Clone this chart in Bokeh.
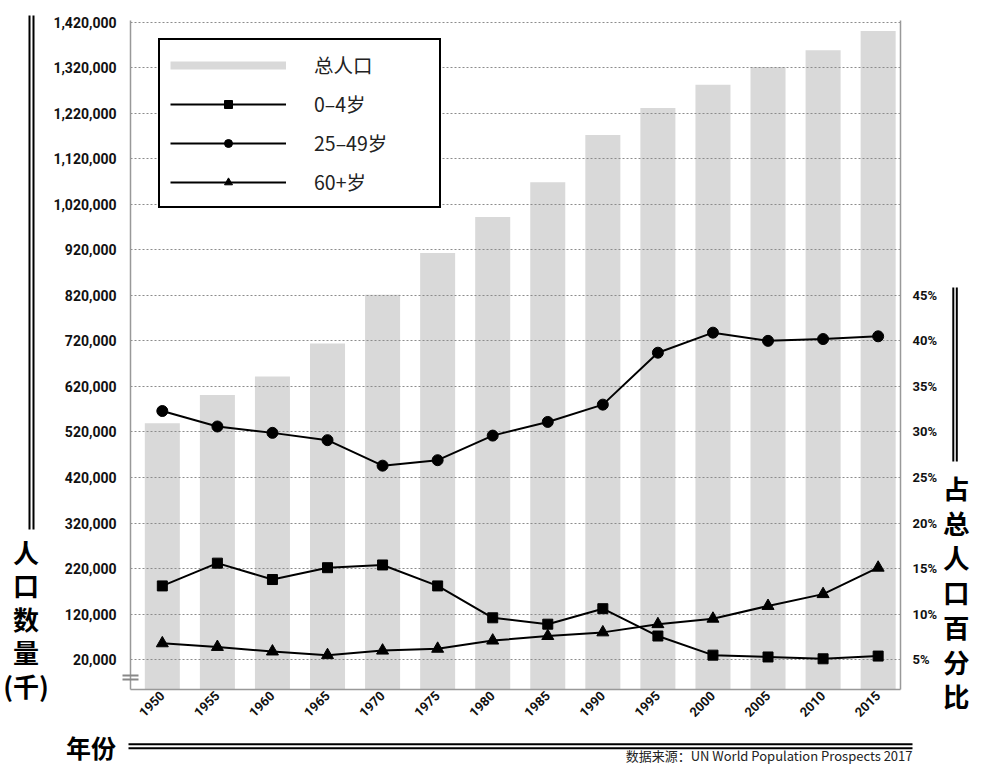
import math
from bokeh.plotting import figure
from bokeh.layouts import row, column
from bokeh.models import (Range1d, LinearAxis, FixedTicker, NumeralTickFormatter,
                          PrintfTickFormatter, Legend, LegendItem)
from bokeh.core.properties import value
from bokeh.embed import file_html
from bokeh.resources import INLINE

# ---------------- data ----------------
years = [1950, 1955, 1960, 1965, 1970, 1975, 1980, 1985, 1990, 1995, 2000, 2005, 2010, 2015]
total_pop = [539000, 601000, 642000, 714000, 821000, 913000, 992000, 1068000, 1172000,
             1231000, 1282000, 1321000, 1358000, 1400000]
pct_0_4 = [13.1, 15.6, 13.8, 15.1, 15.4, 13.1, 9.6, 8.9, 10.6, 7.6, 5.5, 5.3, 5.1, 5.4]
pct_25_49 = [32.3, 30.6, 29.9, 29.1, 26.3, 26.9, 29.6, 31.1, 33.0, 38.7, 40.9, 40.0, 40.2, 40.5]
pct_60 = [6.8, 6.4, 5.9, 5.5, 6.0, 6.2, 7.1, 7.6, 8.0, 8.9, 9.5, 10.9, 12.2, 15.1]
left_ticks = list(range(20000, 1420001, 100000))
right_ticks = [5, 10, 15, 20, 25, 30, 35, 40, 45]
break_marks = [-14700, -23500]   # axis-break "=" sign on the left axis

series_labels = ["总人口", "0–4岁", "25–49岁", "60+岁"]
left_title = ["人", "口", "数", "量", "(千)"]
right_title = ["占", "总", "人", "口", "百", "分", "比"]
x_title = "年份"
source_text = "数据来源：UN World Population Prospects 2017"

TICK_FONT = "Roboto"
CJK_FONT = "Noto Sans CJK SC"

# ---------------- layout sizes ----------------
TOTAL_W, TOTAL_H = 971, 765
LEFT_W, RIGHT_W = 50, 31
TOP_H = 725
MAIN_W = TOTAL_W - LEFT_W - RIGHT_W
BOTTOM_H = TOTAL_H - TOP_H
FRAME_BOTTOM = 689

Y0, Y1 = -45400, 1423300
p = figure(width=MAIN_W, height=TOP_H, output_backend="svg", toolbar_location=None,
           x_range=Range1d(1947.11, 2017.03), y_range=Range1d(Y0, Y1),
           min_border_left=79, min_border_right=40, min_border_top=20,
           min_border_bottom=TOP_H - FRAME_BOTTOM, frame_align=False)
p.extra_y_ranges = {"pct": Range1d(5 + (Y0 - 20000) / 20000, 5 + (Y1 - 20000) / 20000)}
p.outline_line_color = None

# bars
bars = p.vbar(x=years, top=total_pop, bottom=Y0, width=3.18, fill_color="#d9d9d9",
              line_color=None, level="image")

# grid
p.xgrid.visible = False
p.ygrid.ticker = FixedTicker(ticks=left_ticks)
p.ygrid.grid_line_color = "#8c8c8c"
p.ygrid.grid_line_dash = "2 2"
p.ygrid.grid_line_width = 1
p.ygrid.level = "underlay"

# lines
lw = 2
l1 = p.line(years, pct_0_4, y_range_name="pct", line_color="black", line_width=lw)
m1 = p.scatter(years, pct_0_4, y_range_name="pct", marker="square", size=10, color="black")
l2 = p.line(years, pct_25_49, y_range_name="pct", line_color="black", line_width=lw)
m2 = p.scatter(years, pct_25_49, y_range_name="pct", marker="circle", size=11, color="black")
l3 = p.line(years, pct_60, y_range_name="pct", line_color="black", line_width=lw)
m3 = p.scatter(years, pct_60, y_range_name="pct", marker="triangle", size=12, color="black")
proxy = p.line(x=[years[0]], y=[float("nan")], line_color="#d9d9d9", line_width=8)

# axes
la = p.yaxis[0]
la.ticker = FixedTicker(ticks=left_ticks, minor_ticks=break_marks)
la.formatter = NumeralTickFormatter(format="0,0")
la.major_tick_out = 0
la.major_tick_in = 0
la.minor_tick_out = 8
la.minor_tick_in = 8
la.minor_tick_line_color = "#888888"
la.minor_tick_line_width = 2
la.major_label_standoff = 6
la.axis_line_color = "#999999"
la.axis_line_width = 1.5
la.major_label_text_font = TICK_FONT
la.major_label_text_font_style = "bold"
la.major_label_text_font_size = "14px"
la.major_label_text_color = "#111111"

ra = LinearAxis(y_range_name="pct", ticker=FixedTicker(ticks=right_ticks),
                formatter=PrintfTickFormatter(format="%d%%"))
ra.major_tick_out = 0
ra.major_tick_in = 0
ra.minor_tick_out = 0
ra.minor_tick_in = 0
ra.major_label_standoff = 12
ra.axis_line_color = "#999999"
ra.axis_line_width = 1.5
ra.major_label_text_font = TICK_FONT
ra.major_label_text_font_style = "bold"
ra.major_label_text_font_size = "13px"
ra.major_label_text_color = "#111111"
p.add_layout(ra, "right")

xa = p.xaxis[0]
xa.ticker = FixedTicker(ticks=years)
xa.major_tick_out = 0
xa.major_tick_in = 0
xa.minor_tick_out = 0
xa.minor_tick_in = 0
xa.major_label_orientation = math.pi / 4
xa.major_label_standoff = 4
xa.axis_line_color = "#999999"
xa.axis_line_width = 1.5
xa.major_label_text_font = TICK_FONT
xa.major_label_text_font_style = "bold"
xa.major_label_text_font_size = "13px"
xa.major_label_text_color = "#111111"

# legend
legend = Legend(items=[
    LegendItem(label=series_labels[0], renderers=[proxy]),
    LegendItem(label=series_labels[1], renderers=[l1, m1]),
    LegendItem(label=series_labels[2], renderers=[l2, m2]),
    LegendItem(label=series_labels[3], renderers=[l3, m3]),
], location=(28, 481))
legend.border_line_color = "black"
legend.border_line_alpha = 1
legend.border_line_width = 2
legend.background_fill_color = "white"
legend.background_fill_alpha = 1
legend.padding = 10
legend.spacing = 10
legend.glyph_width = 116
legend.glyph_height = 20
legend.label_height = 20
legend.label_width = 115
legend.label_standoff = 28
legend.label_text_font = CJK_FONT
legend.label_text_font_size = "19.5px"
legend.label_text_color = "#222222"
legend.margin = 0
p.add_layout(legend)


# ---------------- decoration strips (titles, double rules) ----------------
def strip(w, h):
    f = figure(width=w, height=h, x_range=Range1d(0, w), y_range=Range1d(h, 0),
               output_backend="svg", toolbar_location=None, min_border=0,
               x_axis_type=None, y_axis_type=None, title=None, frame_align=False)
    f.outline_line_color = None
    return f


def rules(f, lefts, rights, tops, bottoms):
    f.quad(left=lefts, right=rights, top=tops, bottom=bottoms,
           fill_color="black", line_color=None)


def stacked(f, cx, cy0, step, chars, size):
    f.text(x=[cx] * len(chars), y=[cy0 + i * step for i in range(len(chars))], text=chars,
           text_font=value(CJK_FONT), text_font_size=size, text_font_style="bold",
           text_align="center", text_baseline="middle", text_color="black")


left = strip(LEFT_W, TOP_H)
rules(left, [28, 32], [30, 34], [15, 15], [529, 529])
stacked(left, 25.5, 550.5, 33.55, left_title, "26px")

right = strip(RIGHT_W, TOP_H)
rules(right, [11.8, 15.3], [13.8, 17.3], [287, 287], [461, 461])
stacked(right, 15.8, 486.8, 34.77, right_title, "26.5px")

bottom = strip(TOTAL_W, BOTTOM_H)
rules(bottom, [128, 128], [912, 912], [17.7, 21.7], [19.7, 23.7])
bottom.text(x=[90.5], y=[21.4], text=[x_title], text_font=value(CJK_FONT),
            text_font_size="25px", text_font_style="bold", text_align="center",
            text_baseline="middle", text_color="black")
bottom.text(x=[912], y=[39.5], text=[source_text], text_font=value(CJK_FONT),
            text_font_size="13px", text_align="right", text_baseline="bottom",
            text_color="#222222")

layout = column(row(left, p, right, spacing=0), bottom, spacing=0)

open("out.html", "w").write(file_html(layout, INLINE))
